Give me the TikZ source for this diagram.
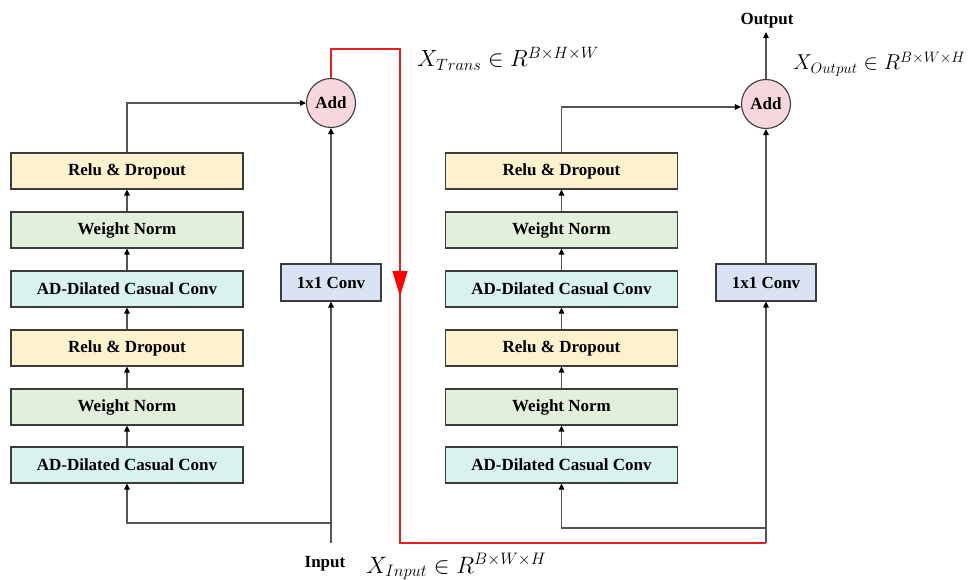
\RequirePackage{fix-cm}
\documentclass[tikz,border=0pt]{standalone}
\usepackage{fontspec}
\setmainfont{Liberation Serif}
\usetikzlibrary{arrows.meta,decorations.markings}
\definecolor{cRelu}{RGB}{253,241,206}
\definecolor{cNorm}{RGB}{226,239,218}
\definecolor{cConv}{RGB}{216,242,240}
\definecolor{cOne}{RGB}{218,227,243}
\definecolor{cAdd}{RGB}{248,214,222}
\definecolor{cBorder}{RGB}{60,60,60}
\definecolor{cLine}{RGB}{85,85,85}
\definecolor{cRed}{RGB}{232,30,36}
\tikzset{
  blk/.style={draw=cBorder, line width=1.1pt, minimum width=232pt, minimum height=36pt,
    inner sep=0pt, font=\fontsize{17}{19}\selectfont\bfseries},
  relu/.style={blk, fill=cRelu},
  wnorm/.style={blk, fill=cNorm},
  adconv/.style={blk, fill=cConv},
  onebox/.style={blk, fill=cOne, minimum width=100pt, minimum height=37pt},
  addnode/.style={circle, draw=cBorder, line width=1.1pt, fill=cAdd, minimum size=49pt,
    inner sep=0pt, font=\fontsize{17}{19}\selectfont\bfseries},
  conn/.style={draw=cLine, line width=1.2pt, -{Triangle[length=6pt,width=5.5pt,color=black]}},
  lbl/.style={inner sep=0pt, font=\fontsize{17}{19}\selectfont\bfseries},
  mathlbl/.style={inner sep=0pt, anchor=base west},
  redpath/.style={draw=cRed, line width=1.2pt, postaction={decorate},
    decoration={markings, mark=at position 345pt with {\arrow{Triangle[length=25pt,width=15pt,color=red]}}}}
}
\begin{document}
\begin{tikzpicture}[x=1pt,y=-1pt]
\useasboundingbox (0,0) rectangle (969,580);
% left column
\node[relu]   (l6) at (127,171) {Relu \& Dropout};
\node[wnorm]  (l5) at (127,230) {Weight Norm};
\node[adconv] (l4) at (127,289) {AD-Dilated Casual Conv};
\node[relu]   (l3) at (127,348) {Relu \& Dropout};
\node[wnorm]  (l2) at (127,407) {Weight Norm};
\node[adconv] (l1) at (127,465) {AD-Dilated Casual Conv};
\node[onebox] (c1) at (331,282.5) {1x1 Conv};
\node[addnode] (a1) at (331,103) {Add};
% right column
\node[relu]   (r6) at (561.5,171) {Relu \& Dropout};
\node[wnorm]  (r5) at (561.5,230) {Weight Norm};
\node[adconv] (r4) at (561.5,289) {AD-Dilated Casual Conv};
\node[relu]   (r3) at (561.5,348) {Relu \& Dropout};
\node[wnorm]  (r2) at (561.5,407) {Weight Norm};
\node[adconv] (r1) at (561.5,465) {AD-Dilated Casual Conv};
\node[onebox] (c2) at (766,282.5) {1x1 Conv};
\node[addnode] (a2) at (766,104) {Add};
% labels
\node[lbl] (out) at (767,21) {Output};
\node[lbl] (inp) at (325,564) {Input};
\node[mathlbl, font=\fontsize{23.4}{28}\selectfont] (xt) at (417,67) {$X_{Trans}\in R^{B\times H\times W}$};
\node[mathlbl, font=\fontsize{21.5}{26}\selectfont] (xo) at (793,70) {$X_{Output}\in R^{B\times W\times H}$};
\node[mathlbl, font=\fontsize{23.7}{28}\selectfont] (xi) at (366,573) {$X_{Input}\in R^{B\times W\times H}$};
% coordinates
\coordinate (inL) at (331,543);
\coordinate (inR) at (766,543);
\coordinate (jL) at (331,523);
\coordinate (jR) at (766,528);
\coordinate (rt) at (400,49);
\coordinate (rb) at (400,543);
\coordinate (oTop) at (766,32);
% left stack arrows
\draw[conn] (l1) -- (l2);
\draw[conn] (l2) -- (l3);
\draw[conn] (l3) -- (l4);
\draw[conn] (l4) -- (l5);
\draw[conn] (l5) -- (l6);
\draw[conn] (l6.north) |- (a1.west);
\draw[conn] (inL) -- (c1.south);
\draw[conn] (jL) -| (l1.south);
\draw[conn] (c1.north) -- (a1.south);
% right stack arrows
\draw[conn] (r1) -- (r2);
\draw[conn] (r2) -- (r3);
\draw[conn] (r3) -- (r4);
\draw[conn] (r4) -- (r5);
\draw[conn] (r5) -- (r6);
\draw[conn] (r6.north) |- ([yshift=-3pt]a2.west);
\draw[conn] (inR) -- (c2.south);
\draw[conn] (jR) -| (r1.south);
\draw[conn] (c2.north) -- (a2.south);
\draw[conn] (a2.north) -- (oTop);
% red transfer path
\draw[redpath] (a1.north) |- (rt) -- (rb) -- (inR);
\end{tikzpicture}
\end{document}
